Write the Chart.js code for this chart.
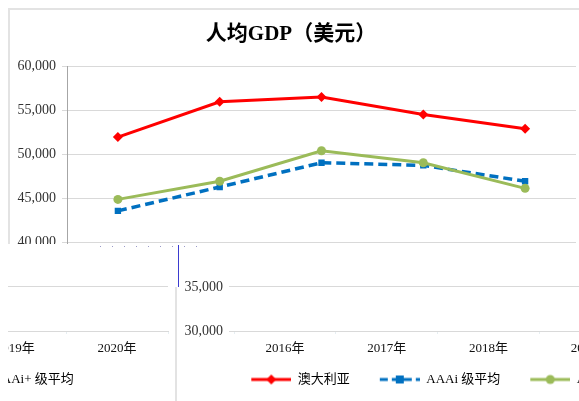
<!DOCTYPE html>
<html lang="zh">
<head>
<meta charset="UTF-8">
<title>人均GDP（美元）</title>
<script src="https://cdn.jsdelivr.net/npm/chart.js"></script>
<style>
    body { margin: 0; background: #fff; }
    #stage { position: relative; width: 579px; height: 401px; overflow: hidden; background: #fff; }
    .tile { position: absolute; overflow: hidden; background: #fff; }
    .sheet { position: absolute; width: 600px; height: 401px; }
    .frame { position: absolute; left: 8px; top: 8px; width: 640px; height: 440px; border: 2px solid #e3e3e3; box-sizing: border-box; }
    .sheet canvas { position: absolute; left: 0; top: 0; }
    .cover { position: absolute; background: #fff; }
    .blueline { position: absolute; left: 178px; top: 245px; width: 1px; height: 42px; background: #3b3bd0; }
    .dots { position: absolute; left: 100px; top: 246px; width: 104px; height: 1px;
            background: repeating-linear-gradient(to right, #9a9ac8 0 1px, transparent 1px 12px); }
</style>
</head>
<body>
<div id="stage"></div>

<script>
    const years = ["2016年", "2017年", "2018年", "2019年", "2020年"];
    const australia = [51950, 55950, 56500, 54500, 52900];
    const aaaiAvg = [43600, 46300, 49050, 48750, 46950];
    const aaiPlusAvg = [44900, 46950, 50400, 49050, 46150];
    const yTicks = [30000, 35000, 40000, 45000, 50000, 55000, 60000];

    const serif = "'Liberation Serif', 'Times New Roman', 'Noto Sans CJK SC', serif";

    // the picture is pieced together from three shifted views of the same chart
    const tiles = [
        { left: 0, top: 0, width: 579, height: 244, dx: 0, axisLine: true },
        { left: 8, top: 244, width: 162, height: 157, dx: -408, axisLine: false },
        { left: 170, top: 279, width: 409, height: 122, dx: 167, axisLine: false },
    ];

    // legend swatch: 20px of empty lead-in, then a 40px line with its marker
    function legendSwatch(color, dash, marker) {
        const c = document.createElement("canvas");
        c.width = 60;
        c.height = 14;
        const g = c.getContext("2d");
        g.strokeStyle = color;
        g.lineWidth = 3;
        g.setLineDash(dash);
        g.beginPath();
        g.moveTo(20, 7);
        g.lineTo(60, 7);
        g.stroke();
        g.fillStyle = color;
        if (marker === "rectRot") {
            g.beginPath();
            g.moveTo(40, 2); g.lineTo(45, 7); g.lineTo(40, 12); g.lineTo(35, 7);
            g.closePath();
            g.fill();
        } else if (marker === "rect") {
            g.fillRect(36, 3, 8, 8);
        } else {
            g.beginPath();
            g.arc(40, 7, 4.5, 0, Math.PI * 2);
            g.fill();
        }
        return c;
    }

    function makeDatasets() {
        return [
            {
                label: "澳大利亚",
                data: australia,
                order: 2,
                borderColor: "#ff0000",
                backgroundColor: "#ff0000",
                borderWidth: 3,
                pointStyle: "rectRot",
                pointRadius: 5,
                pointBorderWidth: 0,
                swatch: legendSwatch("#ff0000", [], "rectRot"),
            },
            {
                label: "AAAi 级平均",
                data: aaaiAvg,
                order: 1,
                borderColor: "#0070c0",
                backgroundColor: "#0070c0",
                borderWidth: 3.5,
                borderDash: [9, 5],
                pointStyle: "rect",
                pointRadius: 4.5,
                pointBorderWidth: 0,
                swatch: legendSwatch("#0070c0", [8, 4], "rect"),
            },
            {
                label: "AAi+ 级平均",
                data: aaiPlusAvg,
                order: 0,
                borderColor: "#9bbb59",
                backgroundColor: "#9bbb59",
                borderWidth: 3,
                pointStyle: "circle",
                pointRadius: 4.5,
                pointBorderWidth: 0,
                swatch: legendSwatch("#9bbb59", [], "circle"),
            },
        ];
    }

    // nudge the legend left of the centre, as in the original
    const legendNudge = {
        id: "legendNudge",
        afterLayout(chart) {
            chart.legend.left -= 18;
            chart.legend.right -= 18;
        },
    };

    function buildChart(canvas, axisLine) {
        return new Chart(canvas.getContext("2d"), {
            type: "line",
            data: { labels: years, datasets: makeDatasets() },
            plugins: [legendNudge],
            options: {
                responsive: false,
                animation: false,
                devicePixelRatio: 1,
                layout: { padding: { left: 6, right: 24, top: 0, bottom: 5 } },
                plugins: {
                    title: {
                        display: true,
                        text: "人均GDP（美元）",
                        color: "#000",
                        font: { family: serif, size: 21, weight: "bold" },
                        padding: { top: 21.5, bottom: 19.3 },
                    },
                    legend: {
                        position: "bottom",
                        labels: {
                            usePointStyle: true,
                            pointStyleWidth: 60,
                            padding: 10,
                            color: "#333",
                            font: { family: serif, size: 13 },
                            generateLabels: chart => chart.data.datasets.map((ds, i) => ({
                                text: ds.label,
                                pointStyle: ds.swatch,
                                fillStyle: ds.borderColor,
                                strokeStyle: ds.borderColor,
                                lineWidth: 0,
                                hidden: false,
                                datasetIndex: i,
                            })),
                        },
                    },
                    tooltip: { enabled: false },
                },
                scales: {
                    x: {
                        offset: true,
                        grid: { drawOnChartArea: false, drawTicks: true, tickLength: 3, color: "#e6eef2", offset: true },
                        border: { color: "#d9d9d9" },
                        ticks: { color: "#111", font: { family: serif, size: 13 }, padding: 7, maxRotation: 0 },
                        afterFit: scale => { scale.height = 32; },
                    },
                    y: {
                        min: yTicks[0],
                        max: yTicks[yTicks.length - 1],
                        afterBuildTicks: scale => { scale.ticks = yTicks.map(v => ({ value: v })); },
                        grid: { color: "#d9d9d9", tickLength: 5 },
                        border: { display: axisLine, color: "#a6a6a6" },
                        ticks: {
                            color: "#333",
                            font: { family: serif, size: 14 },
                            padding: 6,
                            callback: v => Number(v).toLocaleString("en-US"),
                        },
                        afterFit: scale => { scale.width = 61; },
                    },
                },
            },
        });
    }

    const stage = document.getElementById("stage");
    tiles.forEach(t => {
        const tile = document.createElement("div");
        tile.className = "tile";
        tile.style.left = t.left + "px";
        tile.style.top = t.top + "px";
        tile.style.width = t.width + "px";
        tile.style.height = t.height + "px";

        const sheet = document.createElement("div");
        sheet.className = "sheet";
        sheet.style.left = (t.dx - t.left) + "px";
        sheet.style.top = (-t.top) + "px";

        const frame = document.createElement("div");
        frame.className = "frame";
        sheet.appendChild(frame);

        const canvas = document.createElement("canvas");
        canvas.width = 600;
        canvas.height = 401;
        sheet.appendChild(canvas);

        tile.appendChild(sheet);
        stage.appendChild(tile);
        buildChart(canvas, t.axisLine);
    });

    // seam between the lower views
    const cover = document.createElement("div");
    cover.className = "cover";
    cover.style.left = "170px";
    cover.style.top = "244px";
    cover.style.width = "10px";
    cover.style.height = "43px";
    stage.appendChild(cover);
    const blue = document.createElement("div");
    blue.className = "blueline";
    stage.appendChild(blue);
    const dots = document.createElement("div");
    dots.className = "dots";
    stage.appendChild(dots);
</script>
</body>
</html>
